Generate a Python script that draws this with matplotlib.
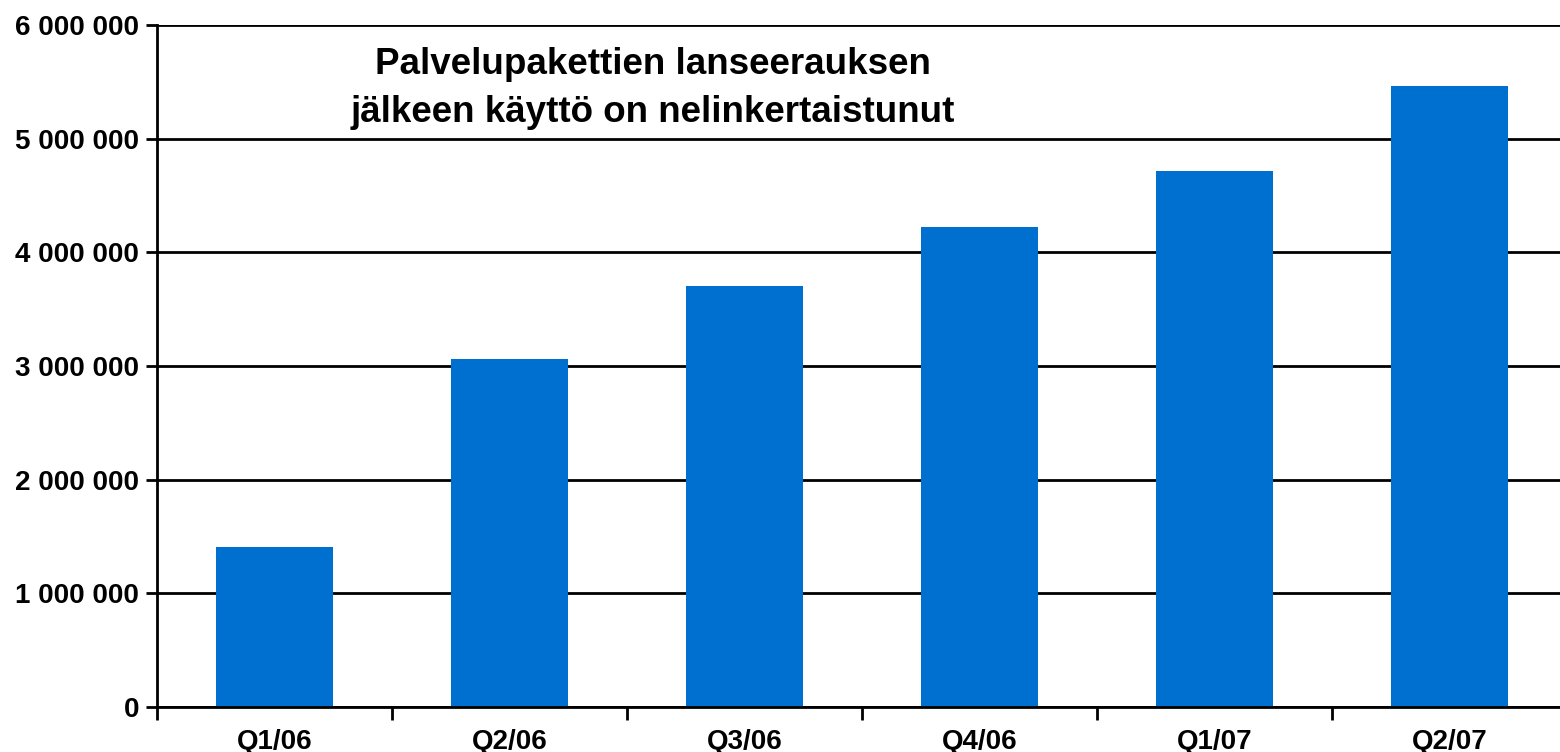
import matplotlib.pyplot as plt
from matplotlib.ticker import FuncFormatter

plt.rcParams['font.family'] = ['Liberation Sans', 'DejaVu Sans']

quarters = ['Q1/06', 'Q2/06', 'Q3/06', 'Q4/06', 'Q1/07', 'Q2/07']
usage = [1410000, 3060000, 3700000, 4220000, 4715000, 5465000]
y_ticks = [0, 1000000, 2000000, 3000000, 4000000, 5000000, 6000000]

fig = plt.figure(figsize=(15.6, 7.52), dpi=100)
# axes runs a bit past the right edge, like in the original slide
ax = fig.add_axes([157 / 1560, 1 - 707 / 752, 1410 / 1560, 682 / 752])

x = list(range(len(quarters)))
ax.bar(x, usage, width=0.5, color='#0070D0', zorder=3)

ax.set_xlim(-0.5, len(quarters) - 0.5)
ax.set_ylim(0, 6000000)
ax.set_yticks(y_ticks)
ax.yaxis.set_major_formatter(FuncFormatter(lambda v, p: f"{int(v):,}".replace(',', ' ')))
ax.grid(axis='y', color='black', linewidth=2, zorder=1)

# ticks between categories, labels centred under bars
ax.set_xticks([i - 0.5 for i in x] + [len(quarters) - 0.5])
ax.set_xticklabels([])
ax.set_xticks(x, minor=True)
ax.set_xticklabels(quarters, minor=True)
ax.tick_params(axis='x', which='minor', length=0, pad=15.5)
ax.tick_params(axis='x', which='major', length=9, width=2, direction='out')
ax.tick_params(axis='y', length=8, width=2, direction='out', pad=5)

for lbl in ax.get_xticklabels(minor=True) + ax.get_yticklabels():
    lbl.set_fontsize(20)
    lbl.set_fontweight('bold')

for s in ['top', 'right']:
    ax.spines[s].set_visible(False)
for s in ['left', 'bottom']:
    ax.spines[s].set_linewidth(2)
    ax.spines[s].set_zorder(4)

ax.text(1.61, 5440000, 'Palvelupakettien lanseerauksen\njälkeen käyttö on nelinkertaistunut',
        ha='center', va='center', fontsize=26.5, fontweight='bold', linespacing=1.5, zorder=5)

fig.savefig('out.png', dpi=100)
